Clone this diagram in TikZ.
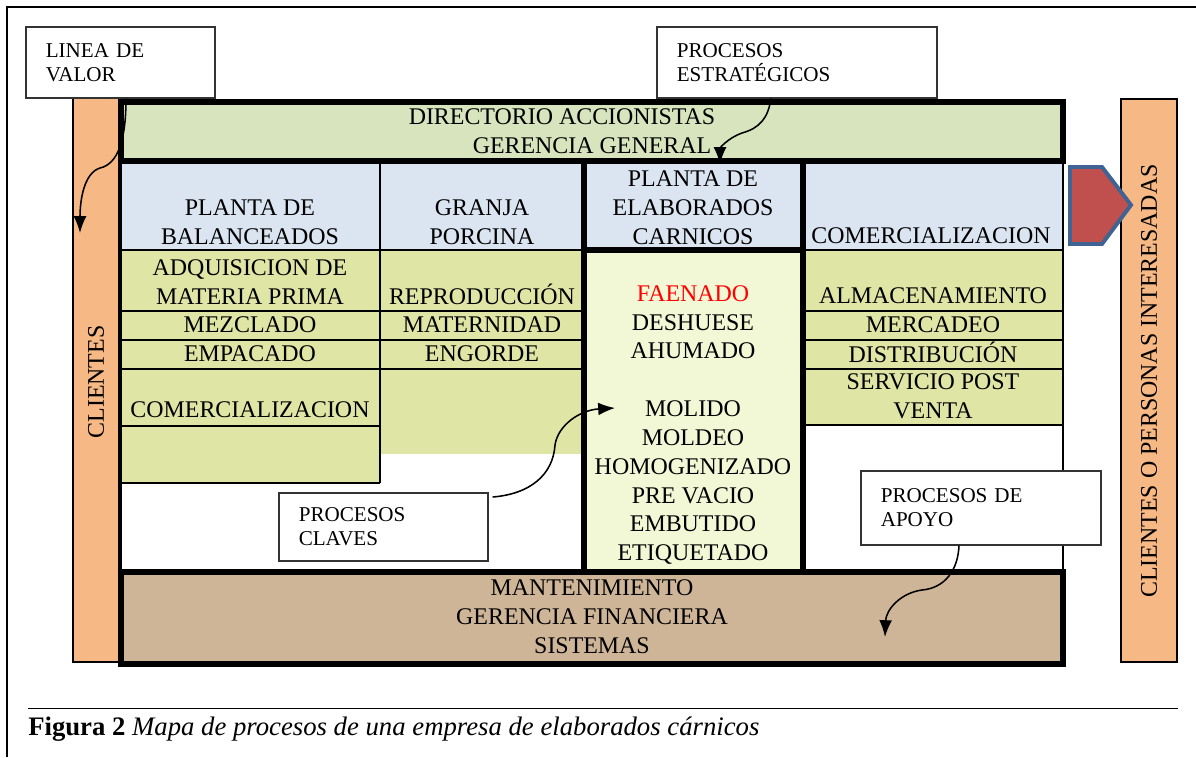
\documentclass[tikz,border=0pt]{standalone}
\usepackage{fontspec}
\setmainfont{Liberation Serif}
\usepackage{tikz}
\usetikzlibrary{arrows.meta,positioning,calc}

\definecolor{barorange}{HTML}{F6B884}
\definecolor{dirgreen}{HTML}{D7E4BD}
\definecolor{hdrblue}{HTML}{DBE5F1}
\definecolor{rowgreen}{HTML}{DFE5A5}
\definecolor{midgreen}{HTML}{F2F8D6}
\definecolor{soilbrown}{HTML}{CFB597}
\definecolor{flagred}{HTML}{C0504D}
\definecolor{flagedge}{HTML}{3F6393}

\newcommand{\celltxt}{\fontsize{17}{20.5}\selectfont}
\newcommand{\notetxt}{\fontsize{15}{17}\selectfont}
\newcommand{\captxt}{\fontsize{19}{22}\selectfont}

\begin{document}
\begin{tikzpicture}[x=0.025cm, y=-0.025cm,
  every node/.style={font=\celltxt},
  txt/.style={align=center, inner sep=0pt},
  gridline/.style={line width=1.3pt},
  heavy/.style={line width=3.6pt},
  notebox/.style={draw=black!80, line width=1.1pt, fill=white, font=\notetxt,
                  align=left, inner xsep=0.5cm, inner ysep=0pt, anchor=north west},
  curvy/.style={-{Latex[length=4.2mm,width=3.2mm]}, line width=1.1pt}]
  \useasboundingbox (0,0) rectangle (1196,757);
  % page frame and caption
  \draw[line width=1.3pt] (7,757) -- (7,7) -- (1196,7);
  \draw[line width=0.7pt] (28,708) -- (1178,708);
  \node[anchor=base west, inner sep=0pt, font=\captxt] (caption) at (28,735)
    {\textbf{Figura 2} \textit{Mapa de procesos de una empresa de elaborados cárnicos}};

  % side bars
  \draw[gridline, fill=barorange] (73,97) rectangle (119,662);
  \draw[gridline, fill=barorange] (1121,99) rectangle (1177,662);
  \node[txt, rotate=90] (clientes) at (96,382) {CLIENTES};
  \node[txt, rotate=90] (interesados) at (1149,381) {CLIENTES O PERSONAS INTERESADAS};

  % fills
  \fill[dirgreen] (121,102) rectangle (1063,161);
  \fill[hdrblue] (121,161) rectangle (1063,250);
  \fill[rowgreen] (121,250) rectangle (380,483);
  \fill[rowgreen] (380,250) rectangle (584,454);
  \fill[rowgreen] (803,250) rectangle (1063,425);
  \fill[midgreen] (584,250) rectangle (803,570);
  \fill[soilbrown] (121,572) rectangle (1063,664);

  % thin grid
  \draw[gridline] (121,161) -- (121,570) (1063,161) -- (1063,570);
  \draw[gridline] (380,161) -- (380,483);
  \draw[gridline] (121,250) -- (1063,250);
  \foreach \y in {311,340,369}{
    \draw[gridline] (121,\y) -- (584,\y) (803,\y) -- (1063,\y);
  }
  \draw[gridline] (121,426) -- (380,426) (121,483) -- (380,483) (803,425) -- (1063,425);

  % heavy frames
  \draw[heavy] (121,102) rectangle (1063,161);
  \draw[heavy] (584,161) -- (584,570) (803,161) -- (803,570) (584,250) -- (803,250);
  \draw[heavy] (121,572) rectangle (1063,664);

  % output flag
  \draw[line width=2.8pt, draw=flagedge, fill=flagred]
    (1070,167) -- (1102,167) -- (1131,205) -- (1102,244) -- (1070,244) -- cycle;

  % strategic and support rows
  \node[txt] (directorio) at (592,131.5) {DIRECTORIO ACCIONISTAS\hspace*{1.5cm}\\GERENCIA GENERAL};
  \node[txt] (apoyo) at (592,617) {MANTENIMIENTO\\GERENCIA FINANCIERA\\SISTEMAS};

  % headers
  \node[txt] (balanceados) at (250,222) {PLANTA DE\\BALANCEADOS};
  \node[txt] (granja) at (482,222) {GRANJA\\PORCINA};
  \node[txt] (planta) at (693,208) {PLANTA DE\\ELABORADOS\\CARNICOS};
  \node[txt] (comercio) at (931,236) {COMERCIALIZACION};

  % planta de balanceados
  \node[txt] (adquisicion) at (250,282) {ADQUISICION DE\\MATERIA PRIMA};
  \node[txt] (mezclado) at (250,325) {MEZCLADO};
  \node[txt] (empacado) at (250,354) {EMPACADO};
  \node[txt] (comercial) at (250,410) {COMERCIALIZACION};

  % granja porcina
  \node[txt] (reproduccion) at (482,294) {REPRODUCCIÓN};
  \node[txt] (maternidad) at (482,325) {MATERNIDAD};
  \node[txt] (engorde) at (482,354) {ENGORDE};

  % elaborados carnicos
  \node[txt] (procesos) at (693,425) {\textcolor{red}{FAENADO}\\DESHUESE\\AHUMADO\\\mbox{}\\MOLIDO\\MOLDEO\\HOMOGENIZADO\\PRE VACIO\\EMBUTIDO\\ETIQUETADO};

  % comercializacion
  \node[txt] (almacen) at (933,296) {ALMACENAMIENTO};
  \node[txt] (mercadeo) at (933,325) {MERCADEO};
  \node[txt] (distribucion) at (933,352) {DISTRIBUCIÓN};
  \node[txt] (postventa) at (933,396) {SERVICIO POST\\VENTA};

  % callouts
  \node[notebox, text width=3.725cm, minimum height=1.775cm] (linea) at (25,26) {LINEA DE\\VALOR};
  \node[notebox, text width=6cm, minimum height=1.775cm] (estrategicos) at (656,26) {PROCESOS\\ESTRATÉGICOS};
  \node[notebox, text width=4.225cm, minimum height=1.7cm] (claves) at (278,492) {PROCESOS\\CLAVES};
  \node[notebox, text width=5cm, minimum height=1.85cm] (deapoyo) at (860,470) {PROCESOS DE\\APOYO};

  \coordinate (tipvalor) at (80,233);
  \coordinate (tipestr) at (720,164);
  \coordinate (tipclave) at (615,408);
  \coordinate (tipapoyo) at (885,637);

  % callout arrows
  \draw[curvy] ($(linea.south west)+(101,0)$) .. controls (126,140) and (118,164) .. (100,168)
    .. controls (84,173) and (80,200) .. (tipvalor);
  \draw[curvy] ($(estrategicos.south west)+(115,0)$) .. controls (768,118) and (760,128) .. (742,133)
    .. controls (728,138) and (720,148) .. (tipestr);
  \draw[curvy] ($(claves.north east)+(4,5)$) .. controls (530,494) and (553,475) .. (555,445)
    .. controls (558,425) and (580,410) .. (tipclave);
  \draw[curvy] ($(deapoyo.south west)+(99,0)$) .. controls (958,570) and (945,588) .. (922,590)
    .. controls (900,593) and (886,610) .. (tipapoyo);
\end{tikzpicture}
\end{document}
